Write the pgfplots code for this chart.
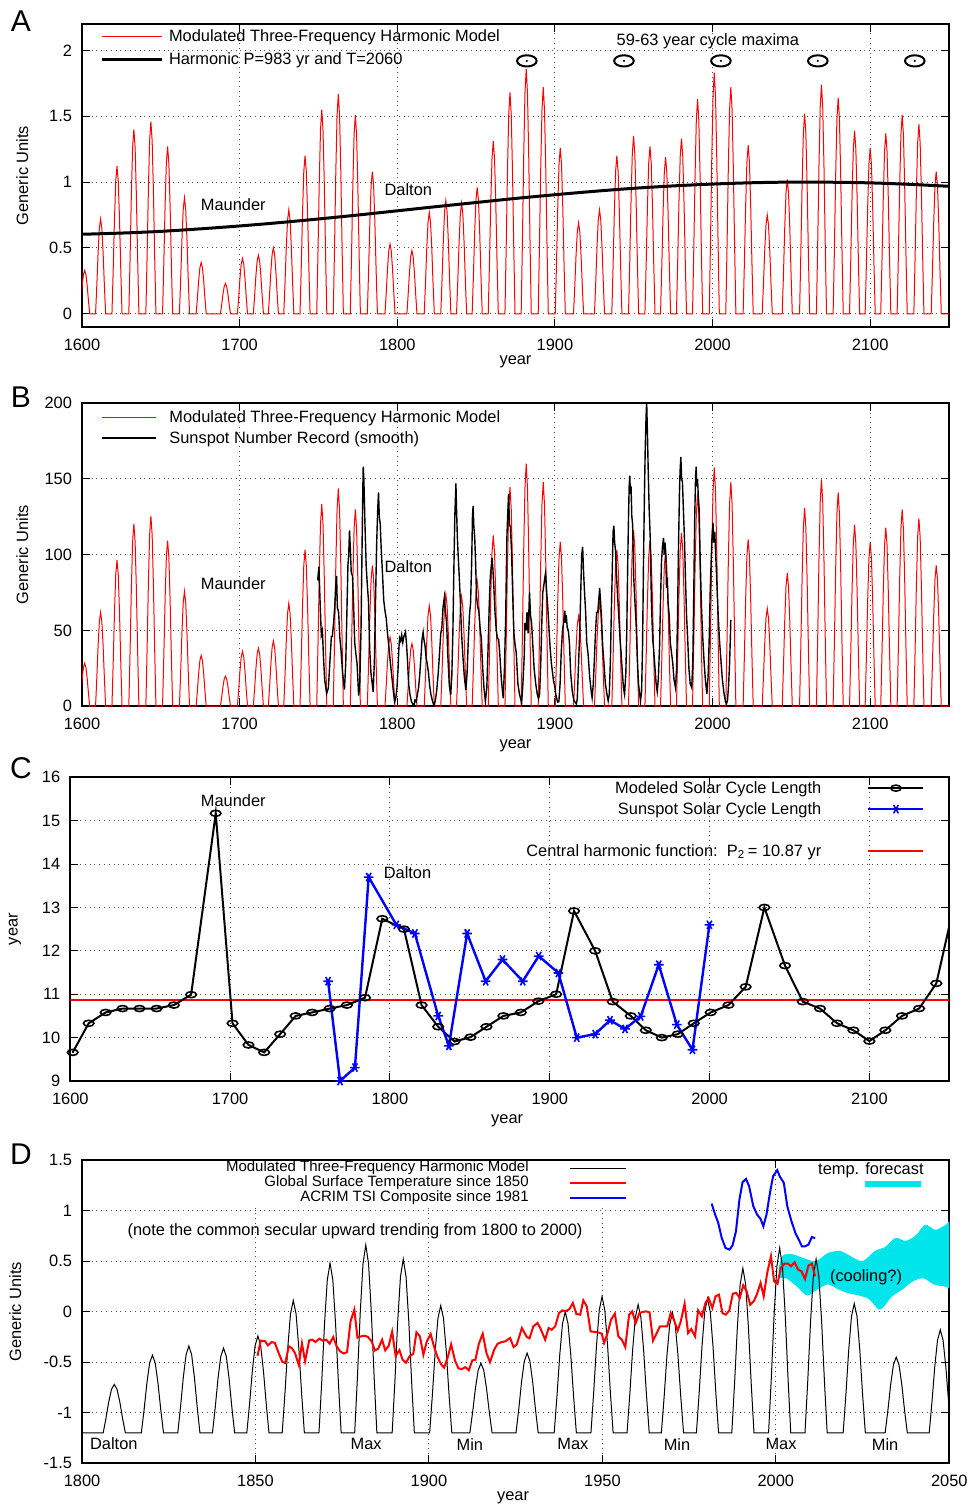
\documentclass[border=0pt]{standalone}
\usepackage{fontspec}
\setmainfont{Liberation Sans}
\usepackage{pgfplots}
\usepackage{pgfplotstable}
\pgfplotsset{compat=1.18}

\definecolor{fcyan}{RGB}{0,228,236}
\definecolor{pred}{RGB}{255,0,0}
\newcommand\fs{\fontsize{8.2}{9.8}\selectfont}

% ellipse with a dot, as in the gnuplot original
\pgfdeclareplotmark{eldot}{%
  \pgfpathellipse{\pgfpointorigin}{\pgfqpoint{1.75\pgfplotmarksize}{0pt}}{\pgfqpoint{0pt}{\pgfplotmarksize}}%
  \pgfusepathqstroke
  \pgfpathcircle{\pgfpointorigin}{0.22\pgfplotmarksize}%
  \pgfusepathqfill}

\pgfplotsset{
  panel/.style={
    scale only axis, anchor=north west,
    axis line style={line width=0.9pt},
    tick style={black, line width=0.5pt},
    major tick length=4pt,
    grid=major,
    grid style={dotted, line width=0.5pt, black!70},
    tick label style={font=\fs},
    xticklabel style={yshift=-2.5pt},
    yticklabel style={xshift=-1.5pt},
    label style={font=\fs},
    /pgf/number format/assume math mode=true,
    /pgf/number format/1000 sep={},
    legend style={draw=none, fill=none, inner sep=0pt, outer sep=0pt, font=\fs,
      nodes={inner sep=0pt, text height=7pt, text depth=2pt}},
  },
}

% modulated three-frequency harmonic model (panel A units), one cycle per line
\pgfplotstableread[row sep=\\]{
x y\\
1598.5 0\\1599.3 0.099\\1600.1 0.211\\1600.9 0.297\\1601.7 0.33\\1602.5 0.297\\1603.3 0.211\\1604.1 0.099\\1604.9 0\\
1608.6 0\\1609.4 0.216\\1610.2 0.461\\1611.0 0.648\\1611.8 0.72\\1612.6 0.648\\1613.4 0.461\\1614.2 0.216\\1615.0 0\\
1619.0 0\\1619.8 0.336\\1620.6 0.717\\1621.4 1.008\\1622.2 1.12\\1623.0 1.008\\1623.8 0.717\\1624.6 0.336\\1625.4 0\\
1629.7 0\\1630.5 0.42\\1631.3 0.896\\1632.1 1.26\\1632.9 1.40\\1633.7 1.26\\1634.5 0.896\\1635.3 0.42\\1636.1 0\\
1640.5 0\\1641.3 0.438\\1642.1 0.934\\1642.9 1.314\\1643.7 1.46\\1644.5 1.314\\1645.3 0.934\\1646.1 0.438\\1646.9 0\\
1651.1 0\\1651.9 0.381\\1652.7 0.813\\1653.5 1.143\\1654.3 1.27\\1655.1 1.143\\1655.9 0.813\\1656.7 0.381\\1657.5 0\\
1661.8 0\\1662.6 0.264\\1663.4 0.563\\1664.2 0.792\\1665.0 0.88\\1665.8 0.792\\1666.6 0.563\\1667.4 0.264\\1668.2 0\\
1672.4 0\\1673.2 0.117\\1674.0 0.25\\1674.8 0.351\\1675.6 0.39\\1676.4 0.351\\1677.2 0.25\\1678.0 0.117\\1678.8 0\\
1687.8 0\\1688.6 0.069\\1689.4 0.147\\1690.2 0.207\\1691.0 0.23\\1691.8 0.207\\1692.6 0.147\\1693.4 0.069\\1694.2 0\\
1698.6 0\\1699.4 0.126\\1700.2 0.269\\1701.0 0.378\\1701.8 0.42\\1702.6 0.378\\1703.4 0.269\\1704.2 0.126\\1705.0 0\\
1708.7 0\\1709.5 0.134\\1710.3 0.285\\1711.1 0.401\\1711.9 0.445\\1712.7 0.401\\1713.5 0.285\\1714.3 0.134\\1715.1 0\\
1718.2 0\\1719.0 0.15\\1719.8 0.32\\1720.6 0.45\\1721.4 0.5\\1722.2 0.45\\1723.0 0.32\\1723.8 0.15\\1724.6 0\\
1728.0 0\\1728.8 0.237\\1729.6 0.506\\1730.4 0.711\\1731.2 0.79\\1732.0 0.711\\1732.8 0.506\\1733.6 0.237\\1734.4 0\\
1738.3 0\\1739.1 0.36\\1739.9 0.768\\1740.7 1.08\\1741.5 1.2\\1742.3 1.08\\1743.1 0.768\\1743.9 0.36\\1744.7 0\\
1748.9 0\\1749.7 0.465\\1750.5 0.992\\1751.3 1.395\\1752.1 1.55\\1752.9 1.395\\1753.7 0.992\\1754.5 0.465\\1755.3 0\\
1759.4 0\\1760.2 0.501\\1761.0 1.069\\1761.8 1.503\\1762.6 1.67\\1763.4 1.503\\1764.2 1.069\\1765.0 0.501\\1765.8 0\\
1770.2 0\\1771.0 0.453\\1771.8 0.966\\1772.6 1.359\\1773.4 1.51\\1774.2 1.359\\1775.0 0.966\\1775.8 0.453\\1776.6 0\\
1781.0 0\\1781.8 0.324\\1782.6 0.691\\1783.4 0.972\\1784.2 1.08\\1785.0 0.972\\1785.8 0.691\\1786.6 0.324\\1787.4 0\\
1792.2 0\\1793.0 0.159\\1793.8 0.339\\1794.6 0.477\\1795.4 0.53\\1796.2 0.477\\1797.0 0.339\\1797.8 0.159\\1798.6 0\\
1806.1 0\\1806.9 0.144\\1807.7 0.307\\1808.5 0.432\\1809.3 0.48\\1810.1 0.432\\1810.9 0.307\\1811.7 0.144\\1812.5 0\\
1817.1 0\\1817.9 0.231\\1818.7 0.493\\1819.5 0.693\\1820.3 0.77\\1821.1 0.693\\1821.9 0.493\\1822.7 0.231\\1823.5 0\\
1827.6 0\\1828.4 0.258\\1829.2 0.55\\1830.0 0.774\\1830.8 0.86\\1831.6 0.774\\1832.4 0.55\\1833.2 0.258\\1834.0 0\\
1837.6 0\\1838.4 0.252\\1839.2 0.538\\1840.0 0.756\\1840.8 0.84\\1841.6 0.756\\1842.4 0.538\\1843.2 0.252\\1844.0 0\\
1847.5 0\\1848.3 0.288\\1849.1 0.614\\1849.9 0.864\\1850.7 0.96\\1851.5 0.864\\1852.3 0.614\\1853.1 0.288\\1853.9 0\\
1857.7 0\\1858.5 0.393\\1859.3 0.838\\1860.1 1.179\\1860.9 1.31\\1861.7 1.179\\1862.5 0.838\\1863.3 0.393\\1864.1 0\\
1868.3 0\\1869.1 0.504\\1869.9 1.075\\1870.7 1.512\\1871.5 1.68\\1872.3 1.512\\1873.1 1.075\\1873.9 0.504\\1874.7 0\\
1878.6 0\\1879.4 0.558\\1880.2 1.19\\1881.0 1.674\\1881.8 1.86\\1882.6 1.674\\1883.4 1.19\\1884.2 0.558\\1885.0 0\\
1889.4 0\\1890.2 0.516\\1891.0 1.101\\1891.8 1.548\\1892.6 1.72\\1893.4 1.548\\1894.2 1.101\\1895.0 0.516\\1895.8 0\\
1900.2 0\\1901.0 0.378\\1901.8 0.806\\1902.6 1.134\\1903.4 1.26\\1904.2 1.134\\1905.0 0.806\\1905.8 0.378\\1906.6 0\\
1911.8 0\\1912.6 0.207\\1913.4 0.442\\1914.2 0.621\\1915.0 0.69\\1915.8 0.621\\1916.6 0.442\\1917.4 0.207\\1918.2 0\\
1925.1 0\\1925.9 0.237\\1926.7 0.506\\1927.5 0.711\\1928.3 0.79\\1929.1 0.711\\1929.9 0.506\\1930.7 0.237\\1931.5 0\\
1936.1 0\\1936.9 0.36\\1937.7 0.768\\1938.5 1.08\\1939.3 1.2\\1940.1 1.08\\1940.9 0.768\\1941.7 0.36\\1942.5 0\\
1946.7 0\\1947.5 0.405\\1948.3 0.864\\1949.1 1.215\\1949.9 1.35\\1950.7 1.215\\1951.5 0.864\\1952.3 0.405\\1953.1 0\\
1957.1 0\\1957.9 0.381\\1958.7 0.813\\1959.5 1.143\\1960.3 1.27\\1961.1 1.143\\1961.9 0.813\\1962.7 0.381\\1963.5 0\\
1967.0 0\\1967.8 0.357\\1968.6 0.762\\1969.4 1.071\\1970.2 1.19\\1971.0 1.071\\1971.8 0.762\\1972.6 0.357\\1973.4 0\\
1977.1 0\\1977.9 0.399\\1978.7 0.851\\1979.5 1.197\\1980.3 1.33\\1981.1 1.197\\1981.9 0.851\\1982.7 0.399\\1983.5 0\\
1987.3 0\\1988.1 0.489\\1988.9 1.043\\1989.7 1.467\\1990.5 1.63\\1991.3 1.467\\1992.1 1.043\\1992.9 0.489\\1993.7 0\\
1997.9 0\\1998.7 0.549\\1999.5 1.171\\2000.3 1.647\\2001.1 1.83\\2001.9 1.647\\2002.7 1.171\\2003.5 0.549\\2004.3 0\\
2008.4 0\\2009.2 0.516\\2010.0 1.101\\2010.8 1.548\\2011.6 1.72\\2012.4 1.548\\2013.2 1.101\\2014.0 0.516\\2014.8 0\\
2019.4 0\\2020.2 0.384\\2021.0 0.819\\2021.8 1.152\\2022.6 1.28\\2023.4 1.152\\2024.2 0.819\\2025.0 0.384\\2025.8 0\\
2031.5 0\\2032.3 0.225\\2033.1 0.48\\2033.9 0.675\\2034.7 0.75\\2035.5 0.675\\2036.3 0.48\\2037.1 0.225\\2037.9 0\\
2044.2 0\\2045.0 0.306\\2045.8 0.653\\2046.6 0.918\\2047.4 1.02\\2048.2 0.918\\2049.0 0.653\\2049.8 0.306\\2050.6 0\\
2055.2 0\\2056.0 0.456\\2056.8 0.973\\2057.6 1.368\\2058.4 1.52\\2059.2 1.368\\2060.0 0.973\\2060.8 0.456\\2061.6 0\\
2065.9 0\\2066.7 0.522\\2067.5 1.114\\2068.3 1.566\\2069.1 1.74\\2069.9 1.566\\2070.7 1.114\\2071.5 0.522\\2072.3 0\\
2076.5 0\\2077.3 0.492\\2078.1 1.05\\2078.9 1.476\\2079.7 1.64\\2080.5 1.476\\2081.3 1.05\\2082.1 0.492\\2082.9 0\\
2086.9 0\\2087.7 0.417\\2088.5 0.89\\2089.3 1.251\\2090.1 1.39\\2090.9 1.251\\2091.7 0.89\\2092.5 0.417\\2093.3 0\\
2096.8 0\\2097.6 0.378\\2098.4 0.806\\2099.2 1.134\\2100.0 1.26\\2100.8 1.134\\2101.6 0.806\\2102.4 0.378\\2103.2 0\\
2106.7 0\\2107.5 0.411\\2108.3 0.877\\2109.1 1.233\\2109.9 1.37\\2110.7 1.233\\2111.5 0.877\\2112.3 0.411\\2113.1 0\\
2117.1 0\\2117.9 0.453\\2118.7 0.966\\2119.5 1.359\\2120.3 1.51\\2121.1 1.359\\2121.9 0.966\\2122.7 0.453\\2123.5 0\\
2127.7 0\\2128.5 0.432\\2129.3 0.922\\2130.1 1.296\\2130.9 1.44\\2131.7 1.296\\2132.5 0.922\\2133.3 0.432\\2134.1 0\\
2138.7 0\\2139.5 0.324\\2140.3 0.691\\2141.1 0.972\\2141.9 1.08\\2142.7 0.972\\2143.5 0.691\\2144.3 0.324\\2145.1 0\\
2150 0\\
}\model

% smoothed sunspot number record
\pgfplotstableread[row sep=\\]{
x y\\
1749.5 83\\1750.3 92\\1751.0 70\\1751.8 47\\1752.5 50\\1753.2 32\\1754.0 17\\1755.2 8.4\\1756.3 12\\1757.3 30\\
1758.2 46\\1758.8 46\\1759.6 55\\1760.3 65\\1761.0 80\\1761.5 86\\1762.0 65\\1762.8 62\\1763.5 46\\1764.3 37\\
1765.3 22\\1766.5 11\\1767.3 28\\1768.0 60\\1768.7 93\\1769.2 100\\1769.7 116\\1770.2 105\\1770.8 88\\1771.6 86\\
1772.2 70\\1773.0 42\\1773.7 35\\1774.5 28\\1775.5 7\\1776.2 14\\1777.0 50\\1777.6 100\\1778.1 140\\1778.4 158\\
1778.8 150\\1779.5 120\\1780.3 92\\1781.0 80\\1781.7 70\\1782.5 38\\1783.3 22\\1784.7 9.5\\1785.5 30\\1786.3 75\\
1787.0 110\\1787.6 130\\1788.1 141\\1788.6 125\\1789.2 120\\1789.8 104\\1790.6 88\\1791.4 70\\1792.2 63\\1793.0 58\\
1793.8 48\\1794.6 40\\1795.5 30\\1796.5 20\\1797.5 10\\1798.3 3\\1799.0 5\\1799.8 12\\1800.5 25\\1801.0 38\\
1801.5 45\\1802.2 43\\1802.8 47\\1803.5 42\\1804.2 46\\1805.2 49\\1805.8 42\\1806.5 30\\1807.2 15\\1808.0 8\\
1809.0 3\\1810.6 0\\1811.2 4\\1812.0 3\\1812.8 8\\1813.5 12\\1814.2 20\\1815.0 32\\1815.7 44\\1816.4 48.7\\
1816.9 44\\1817.6 40\\1818.3 32\\1819.0 28\\1819.8 22\\1820.5 14\\1821.3 8\\1822.2 4\\1823.3 0.1\\1824.0 3\\
1825.0 10\\1826.0 22\\1826.8 35\\1827.6 48\\1828.3 52\\1829.0 65\\1829.9 72\\1830.6 62\\1831.3 55\\1832.0 35\\
1833.0 14\\1833.9 7.3\\1834.6 20\\1835.3 50\\1835.9 90\\1836.5 125\\1837.2 147\\1837.6 130\\1838.1 112\\1838.6 100\\
1839.2 88\\1840.0 70\\1840.7 50\\1841.5 35\\1842.5 20\\1843.5 10.6\\1844.3 22\\1845.0 42\\1845.8 60\\1846.5 68\\
1847.2 95\\1847.7 125\\1848.1 132\\1848.6 118\\1849.1 112\\1849.6 98\\1850.3 72\\1851.0 66\\1851.8 62\\1852.5 52\\
1853.3 45\\1854.2 25\\1855.0 12\\1855.9 3.2\\1856.8 12\\1857.6 38\\1858.3 65\\1859.0 85\\1860.1 98\\1860.7 90\\
1861.3 78\\1862.0 62\\1862.8 50\\1863.5 45\\1864.3 44\\1865.0 35\\1866.0 18\\1867.2 5.2\\1868.0 25\\1868.8 60\\
1869.5 110\\1870.0 125\\1870.6 140\\1871.2 120\\1871.8 118\\1872.5 102\\1873.2 75\\1874.0 48\\1874.8 40\\1875.5 35\\
1876.5 15\\1877.5 8\\1878.9 2.2\\1879.7 15\\1880.5 32\\1881.0 55\\1881.7 50\\1882.3 62\\1883.0 48\\1883.9 75\\
1884.5 60\\1885.2 55\\1886.0 40\\1886.8 25\\1887.8 15\\1888.8 8\\1889.6 5\\1890.3 8\\1891.0 28\\1891.7 55\\
1892.3 75\\1893.0 80\\1893.6 85\\1894.1 88\\1894.8 75\\1895.5 65\\1896.3 50\\1897.0 38\\1897.8 28\\1898.5 22\\
1899.2 16\\1899.8 14\\1900.5 8\\1901.7 2.7\\1902.5 3\\1903.3 15\\1904.0 35\\1904.8 50\\1905.5 55\\1906.3 63\\
1906.7 55\\1907.2 60\\1907.8 52\\1908.5 50\\1909.2 42\\1910.0 22\\1911.0 10\\1912.0 4\\1913.6 1.5\\1914.2 5\\
1915.0 28\\1915.8 50\\1916.5 80\\1917.0 100\\1917.6 105\\1918.2 88\\1918.8 75\\1919.5 62\\1920.2 42\\1921.0 35\\
1922.0 20\\1923.0 10\\1923.6 5.6\\1924.3 14\\1925.0 30\\1925.8 50\\1926.5 62\\1927.2 62\\1927.8 70\\1928.4 78\\
1928.9 70\\1929.5 60\\1930.3 40\\1931.0 30\\1932.0 15\\1933.0 8\\1933.8 3.5\\1934.5 8\\1935.2 30\\1935.8 62\\
1936.4 90\\1936.9 115\\1937.4 119\\1937.9 108\\1938.5 102\\1939.0 88\\1939.8 72\\1940.5 60\\1941.3 45\\1942.0 35\\
1942.8 22\\1943.5 12\\1944.2 7.7\\1945.0 22\\1945.6 50\\1946.2 95\\1946.7 125\\1947.1 145\\1947.5 152\\1947.9 140\\
1948.3 145\\1948.8 125\\1949.3 120\\1950.0 85\\1950.8 68\\1951.5 55\\1952.3 30\\1953.0 15\\1954.3 3.4\\1955.0 10\\
1955.6 40\\1956.2 95\\1956.8 140\\1957.3 170\\1957.8 190\\1958.2 201\\1958.7 180\\1959.2 155\\1959.8 130\\1960.5 110\\
1961.2 70\\1962.0 45\\1962.8 35\\1963.5 25\\1964.2 15\\1964.9 9.6\\1965.6 18\\1966.4 40\\1967.0 70\\1967.6 95\\
1968.2 105\\1968.9 111\\1969.3 100\\1969.8 108\\1970.3 102\\1970.8 78\\1971.3 85\\1971.8 68\\1972.5 60\\1973.2 42\\
1974.0 35\\1974.8 28\\1975.5 18\\1976.5 12.2\\1977.2 25\\1977.8 60\\1978.4 105\\1979.0 140\\1979.4 155\\1979.9 164.5\\
1980.4 150\\1980.9 148\\1981.5 130\\1982.2 110\\1982.8 85\\1983.5 60\\1984.2 45\\1985.0 25\\1985.8 15\\1986.8 12.3\\
1987.5 30\\1988.1 75\\1988.7 125\\1989.2 150\\1989.6 158\\1990.0 145\\1990.5 150\\1990.9 140\\1991.5 130\\1992.2 95\\
1993.0 65\\1993.8 45\\1994.6 30\\1995.4 18\\1996.4 8\\1997.2 20\\1997.9 45\\1998.5 75\\1999.1 95\\1999.6 110\\
2000.3 121\\2000.8 108\\2001.4 115\\2002.0 100\\2002.8 80\\2003.5 62\\2004.3 45\\2005.2 32\\2006.2 18\\2007.2 9\\
2008.2 3\\2008.9 1.7\\2009.5 4\\2010.2 14\\2010.8 28\\2011.3 45\\2011.6 57\\
}\ssn

\begin{document}
\begin{tikzpicture}
\useasboundingbox (0,0) rectangle (485pt,-753pt);

\node[font=\fontsize{15}{15}\selectfont] at (10.5pt,-10.5pt) {A};
\node[font=\fontsize{15}{15}\selectfont] at (10.5pt,-198.5pt) {B};
\node[font=\fontsize{15}{15}\selectfont] at (10.5pt,-384pt) {C};
\node[font=\fontsize{15}{15}\selectfont] at (10.5pt,-577pt) {D};

% ---------------- A ----------------
\begin{axis}[panel, at={(41pt,-12pt)}, width=433.5pt, height=151.5pt,
  xmin=1600, xmax=2150, ymin=-0.1, ymax=2.2,
  xtick={1600,1700,1800,1900,2000,2100}, ytick={0,0.5,1,1.5,2},
  xlabel={year}, ylabel={Generic Units},
  xlabel style={at={(axis description cs:0.5,-0.1155)}, anchor=center},
  ylabel style={at={(axis description cs:-0.069,0.5)}, anchor=center},
  legend style={at={(axis description cs:0.0208,0.987)}, anchor=north west, row sep=2.5pt, column sep=3pt},
  legend cell align=left,
  legend image code/.code={\draw[mark repeat=2,mark phase=2,#1] plot coordinates {(0pt,0pt) (15pt,0pt) (30pt,0pt)};}]
\addplot[pred, line width=0.5pt] table {\model};
\addlegendentry{Modulated Three-Frequency Harmonic Model}
\addplot[black, line width=1.5pt, smooth] coordinates {
 (1600,0.604) (1625,0.613) (1650,0.626) (1675,0.645) (1700,0.667) (1725,0.692)
 (1750,0.720) (1775,0.750) (1800,0.782) (1825,0.814) (1850,0.845) (1875,0.876)
 (1900,0.904) (1925,0.930) (1950,0.953) (1975,0.971) (2000,0.985) (2025,0.995)
 (2050,1.000) (2075,0.999) (2100,0.994) (2125,0.983) (2150,0.968)};
\addlegendentry{Harmonic P=983 yr and T=2060}
\addplot[only marks, mark=eldot, mark size=2.8pt, mark options={black, line width=1pt}, forget plot]
 coordinates {(1882.2,1.92) (1943.8,1.92) (2005.3,1.92) (2066.8,1.92) (2128.3,1.92)};
\node[font=\fs] at (axis cs:1997,2.07) {59-63 year cycle maxima};
\node[font=\fs] at (axis cs:1696,0.83) {Maunder};
\node[font=\fs] at (axis cs:1807,0.94) {Dalton};
\end{axis}

% ---------------- B ----------------
\begin{axis}[panel, at={(41pt,-201.5pt)}, width=433.5pt, height=151.6pt,
  xmin=1600, xmax=2150, ymin=0, ymax=200,
  xtick={1600,1700,1800,1900,2000,2100}, ytick={0,50,100,150,200},
  xlabel={year}, ylabel={Generic Units},
  xlabel style={at={(axis description cs:0.5,-0.129)}, anchor=center},
  ylabel style={at={(axis description cs:-0.069,0.5)}, anchor=center},
  legend style={at={(axis description cs:0.0219,0.9835)}, anchor=north west, row sep=1.5pt, column sep=6.5pt},
  legend cell align=left,
  legend image code/.code={\draw[mark repeat=2,mark phase=2,#1] plot coordinates {(0pt,0pt) (13.5pt,0pt) (27pt,0pt)};}]
\addplot[pred, line width=0.5pt] table[x=x, y expr=\thisrow{y}*86] {\model};
\addlegendentry{Modulated Three-Frequency Harmonic Model}
\addplot[black, line width=0.7pt] table {\ssn};
\addlegendentry{Sunspot Number Record (smooth)}
\node[font=\fs] at (axis cs:1696,80.6) {Maunder};
\node[font=\fs] at (axis cs:1807,92) {Dalton};
\end{axis}

% ---------------- C ----------------
\begin{axis}[panel, at={(35.15pt,-388.65pt)}, width=439.5pt, height=151.85pt,
  xmin=1600, xmax=2150, ymin=9, ymax=16,
  xtick={1600,1700,1800,1900,2000,2100}, ytick={9,10,11,12,13,14,15,16},
  xlabel={year}, ylabel={year},
  xlabel style={at={(axis description cs:0.497,-0.132)}, anchor=center},
  ylabel style={at={(axis description cs:-0.063,0.5)}, anchor=center},
  legend plot pos=right, legend cell align=right,
  legend style={at={(axis description cs:0.972,0.994)}, anchor=north east, row sep=1.5pt, column sep=23pt},
  legend image code/.code={\draw[mark repeat=2,mark phase=2,#1] plot coordinates {(0pt,0pt) (13.75pt,0pt) (27.5pt,0pt)};}]
\addplot[pred, line width=0.8pt, forget plot] coordinates {(1600,10.87) (2150,10.87)};
\addplot[black, line width=1pt, mark=eldot, mark size=1.5pt, mark options={line width=0.8pt}] coordinates {
 (1601.5,9.66) (1611.5,10.33) (1622.1,10.58) (1632.7,10.67) (1643.3,10.67) (1654.0,10.67)
 (1664.8,10.75) (1675.6,10.99) (1691.0,15.17) (1701.5,10.33) (1711.5,9.83) (1721.3,9.66)
 (1731.3,10.08) (1741.0,10.50) (1751.3,10.58) (1762.3,10.67) (1773.1,10.75) (1784.4,10.92)
 (1795.2,12.74) (1808.8,12.50) (1819.8,10.75) (1830.2,10.25) (1840.4,9.91) (1850.4,10.01)
 (1860.4,10.25) (1871.0,10.50) (1881.9,10.58) (1892.9,10.84) (1904.0,11.0) (1915.2,12.92)
 (1928.4,12.0) (1939.4,10.83) (1950.7,10.50) (1960.1,10.17) (1970.1,10.0) (1980.1,10.08)
 (1990.1,10.33) (2000.7,10.58) (2011.8,10.75) (2022.6,11.17) (2034.3,13.0) (2047.2,11.66)
 (2058.3,10.83) (2069.1,10.67) (2079.8,10.33) (2090.0,10.17) (2100.0,9.92) (2110.0,10.17)
 (2120.4,10.50) (2131.1,10.67) (2141.9,11.25)};
\addlegendentry{Modeled Solar Cycle Length}
\addplot[blue, line width=1.2pt, mark=asterisk, mark size=2.4pt, mark options={rotate=90, line width=0.8pt}] coordinates {
 (1761.3,11.30) (1768.8,9.0) (1778.1,9.31) (1786.7,13.70) (1804.0,12.60) (1815.6,12.40)
 (1830.2,10.50) (1836.9,9.81) (1848.3,12.40) (1859.9,11.30) (1870.4,11.80) (1883.1,11.30)
 (1893.1,11.88) (1905.4,11.49) (1916.9,10.0) (1928.4,10.08) (1937.7,10.40) (1947.1,10.20)
 (1956.9,10.49) (1968.2,11.68) (1979.5,10.30) (1989.3,9.72) (1999.9,12.60)};
\addlegendentry{Sunspot Solar Cycle Length}
\addlegendimage{empty legend}
\addlegendentry{}
\addlegendimage{pred, line width=0.8pt}
\addlegendentry{Central harmonic function:\ \ P\textsubscript{2}\,= 10.87 yr}
\addplot[black, line width=1pt, forget plot] coordinates {(2141.9,11.25) (2150,12.57)};
\node[font=\fs] at (axis cs:1702,15.46) {Maunder};
\node[font=\fs] at (axis cs:1811,13.80) {Dalton};
\end{axis}

% ---------------- D ----------------
\begin{axis}[panel, at={(41pt,-580pt)}, width=433.65pt, height=151.65pt,
  xmin=1800, xmax=2050, ymin=-1.5, ymax=1.5,
  xtick={1800,1850,1900,1950,2000,2050}, ytick={-1.5,-1,-0.5,0,0.5,1,1.5},
  xlabel={year}, ylabel={Generic Units},
  xlabel style={at={(axis description cs:0.497,-0.114)}, anchor=center},
  ylabel style={at={(axis description cs:-0.077,0.5)}, anchor=center},
  legend plot pos=right, legend cell align=right,
  legend style={at={(axis description cs:0.628,0.998)}, anchor=north east, fill=white,
    row sep=0pt, column sep=20pt, font=\fontsize{7.5}{8}\selectfont,
    nodes={inner sep=0pt, text height=5.6pt, text depth=1.9pt}},
  legend image code/.code={\draw[#1] (0pt,0pt) -- (28pt,0pt);}]
\addplot[fill=fcyan, draw=none, smooth, forget plot] coordinates {
 (2000.8,0.42) (2001.8,0.55) (2004.5,0.57) (2008,0.53) (2011.5,0.50) (2015,0.58)
 (2018.5,0.60) (2021.5,0.55) (2025,0.50) (2028.5,0.60) (2031.5,0.64) (2034.5,0.73)
 (2037.5,0.70) (2040.5,0.76) (2043,0.86) (2046,0.81) (2049,0.86) (2051,0.90)
 (2051.5,0.58)
 (2051,0.25) (2048.5,0.25) (2045.5,0.27) (2042.5,0.33) (2039.5,0.30) (2036.5,0.22)
 (2033.5,0.15) (2030,0.02) (2027,0.12) (2024,0.16) (2021,0.18) (2018,0.22)
 (2015,0.27) (2012,0.22) (2009,0.16) (2006,0.25) (2003,0.33) (2001.2,0.33)};
\addplot[black, line width=0.5pt] table[x=x, y expr=\thisrow{y}-1.2] {\model};
\addlegendentry{Modulated Three-Frequency Harmonic Model}
\addplot[pred, line width=1pt] coordinates {
 (1850.6,-0.436) (1851.5,-0.287) (1852.7,-0.29) (1853.6,-0.333) (1854.7,-0.30) (1855.6,-0.31)
 (1856.7,-0.41) (1857.7,-0.495) (1858.6,-0.508) (1859.6,-0.343) (1860.5,-0.36) (1861.4,-0.41)
 (1862.5,-0.528) (1863.4,-0.313) (1864.3,-0.49) (1865.5,-0.284) (1866.4,-0.277) (1867.3,-0.30)
 (1868.4,-0.267) (1869.4,-0.287) (1870.4,-0.277) (1871.4,-0.317) (1872.4,-0.25) (1873.4,-0.343)
 (1874.4,-0.393) (1875.4,-0.413) (1876.4,-0.40) (1877.4,-0.096) (1878.5,0.02) (1879.4,-0.257)
 (1880.4,-0.244) (1881.5,-0.238) (1882.4,-0.25) (1883.5,-0.294) (1884.4,-0.383) (1885.4,-0.366)
 (1886.5,-0.277) (1887.4,-0.383) (1888.4,-0.337) (1889.4,-0.198) (1890.4,-0.436) (1891.5,-0.38)
 (1892.4,-0.475) (1893.4,-0.505) (1894.4,-0.442) (1895.5,-0.416) (1896.4,-0.205) (1897.4,-0.244)
 (1898.4,-0.426) (1899.4,-0.294) (1900.5,-0.221) (1901.4,-0.337) (1902.4,-0.442) (1903.5,-0.521)
 (1904.4,-0.554) (1905.5,-0.442) (1906.4,-0.323) (1907.5,-0.482) (1908.5,-0.561) (1909.5,-0.568)
 (1910.5,-0.548) (1911.5,-0.58) (1912.5,-0.482) (1913.4,-0.475) (1914.4,-0.317) (1915.5,-0.218)
 (1916.6,-0.41) (1917.6,-0.50) (1918.8,-0.376) (1919.8,-0.317) (1921.0,-0.30) (1922.0,-0.294)
 (1923.4,-0.26) (1924.4,-0.35) (1925.3,-0.327) (1926.8,-0.162) (1928.2,-0.25) (1929.0,-0.264)
 (1930.1,-0.145) (1931.3,-0.112) (1932.1,-0.162) (1933.5,-0.277) (1934.5,-0.162) (1935.4,-0.178)
 (1936.4,-0.145) (1937.5,-0.013) (1938.5,0.013) (1939.4,0.003) (1940.5,0.026) (1941.5,0.086)
 (1942.5,-0.023) (1943.6,-0.03) (1944.5,0.112) (1945.5,0.053) (1946.6,-0.195) (1947.7,-0.20)
 (1948.8,-0.205) (1949.8,-0.218) (1950.5,-0.31) (1951.5,-0.211) (1952.5,-0.079) (1953.6,-0.02)
 (1954.6,-0.244) (1955.6,-0.277) (1956.6,-0.35) (1957.7,-0.03) (1958.6,0.003) (1959.6,-0.112)
 (1960.7,-0.013) (1961.6,-0.003) (1962.6,0.003) (1963.6,-0.007) (1964.6,-0.287) (1965.6,-0.218)
 (1966.6,-0.145) (1967.7,-0.145) (1968.7,-0.145) (1969.7,-0.013) (1970.6,-0.079) (1971.7,-0.188)
 (1972.6,-0.096) (1973.7,0.079) (1974.7,-0.211) (1975.6,-0.172) (1976.7,-0.244) (1977.6,0.013)
 (1978.7,-0.046) (1979.7,0.086) (1980.6,0.135) (1981.7,0.036) (1982.6,0.152) (1983.6,0.168)
 (1984.6,-0.013) (1985.6,-0.03) (1986.6,0.013) (1987.6,0.178) (1988.6,0.185) (1989.6,0.135)
 (1990.6,0.261) (1991.6,0.201) (1992.6,0.069) (1993.6,0.102) (1994.5,0.168) (1995.6,0.284)
 (1996.5,0.152) (1997.5,0.383) (1998.6,0.548) (1999.5,0.30) (2000.5,0.277) (2001.4,0.432)
 (2002.5,0.475) (2003.5,0.475) (2004.4,0.449) (2005.4,0.488) (2006.4,0.416) (2007.4,0.399)
 (2008.4,0.323) (2009.4,0.455) (2010.4,0.475) (2011.3,0.35)};
\addlegendentry{Global Surface Temperature since 1850}
\addplot[blue, line width=1pt] coordinates {
 (1981.5,1.069) (1982.5,0.96) (1983.4,0.878) (1984.4,0.729) (1985.5,0.63) (1986.6,0.614)
 (1987.5,0.653) (1988.5,0.795) (1989.5,1.109) (1990.4,1.28) (1991.4,1.313) (1992.3,1.24)
 (1993.5,1.043) (1994.6,0.96) (1995.6,0.917) (1996.4,0.845) (1997.3,0.96) (1998.3,1.175)
 (1999.2,1.34) (2000.4,1.399) (2001.2,1.333) (2002.3,1.274) (2003.3,1.043) (2004.5,0.894)
 (2005.7,0.772) (2006.6,0.713) (2007.5,0.647) (2008.4,0.647) (2009.4,0.663) (2010.4,0.739)
 (2011.3,0.726)};
\addlegendentry{ACRIM TSI Composite since 1981}
\node[font=\fs] at (axis cs:2027.4,1.40) {temp. forecast};
\node[font=\fs] at (axis cs:1878.7,0.797) {(note the common secular upward trending from 1800 to 2000)};
\node[font=\fs] at (axis cs:2026,0.343) {(cooling?)};
\node[font=\fs, anchor=west] at (axis cs:1800.3,-1.31) {Dalton};
\node[font=\fs] at (axis cs:1881.9,-1.31) {Max};
\node[font=\fs] at (axis cs:1911.8,-1.31) {Min};
\node[font=\fs] at (axis cs:1941.5,-1.31) {Max};
\node[font=\fs] at (axis cs:1971.5,-1.31) {Min};
\node[font=\fs] at (axis cs:2001.5,-1.31) {Max};
\node[font=\fs] at (axis cs:2031.5,-1.31) {Min};
\end{axis}

% second key of panel D
\begin{axis}[panel, at={(41pt,-580pt)}, width=433.65pt, height=151.65pt,
  hide axis, xmin=0, xmax=1, ymin=0, ymax=1,
  legend style={at={(axis description cs:0.973,0.921)}, anchor=east, column sep=0pt},
  legend image code/.code={\draw[#1] (0pt,0pt) -- (28pt,0pt);}]
\addlegendimage{fcyan, line width=3pt}
\addlegendentry{}
\end{axis}
\end{tikzpicture}
\end{document}
